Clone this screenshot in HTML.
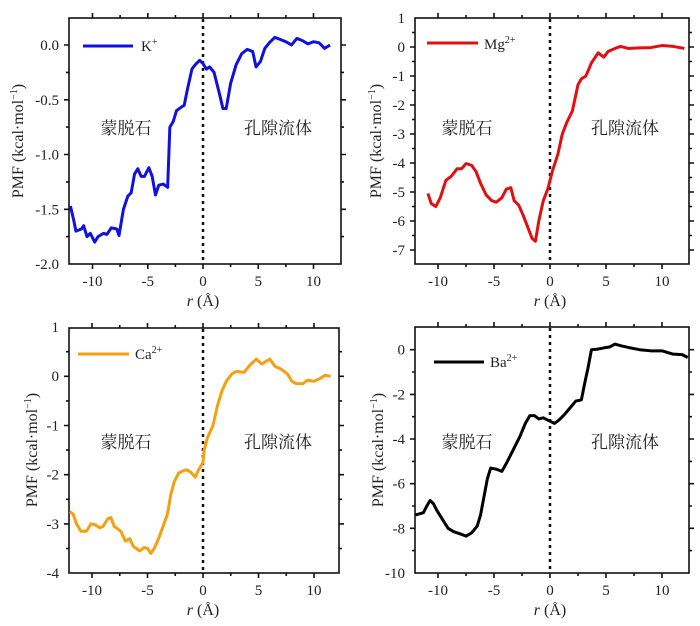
<!DOCTYPE html>
<html><head><meta charset="utf-8"><style>
body{margin:0;background:#fff}
svg{display:block}
text{font-family:"Liberation Serif","Noto Serif CJK SC",serif;fill:#222}
.cn{font-family:"Liberation Serif","Noto Serif CJK SC","Noto Sans CJK SC",serif;font-size:17px}
</style></head><body>
<svg width="700" height="626" viewBox="0 0 700 626" xmlns="http://www.w3.org/2000/svg">
<defs>
<clipPath id="c1"><rect x="69" y="18" width="272" height="246"/></clipPath>
<clipPath id="c2"><rect x="415" y="18" width="274" height="246"/></clipPath>
<clipPath id="c3"><rect x="69" y="328" width="270" height="245"/></clipPath>
<clipPath id="c4"><rect x="415" y="327" width="274" height="246"/></clipPath>
</defs>
<g fill="none" stroke="#111" stroke-width="1.6">
<rect x="69" y="18" width="272" height="246"/>
<rect x="415" y="18" width="274" height="246"/>
<rect x="69" y="328" width="270" height="245"/>
<rect x="415" y="327" width="274" height="246"/>
<path d="M92.5,18v-5M147.8,18v-5M203,18v-5M258.3,18v-5M313.5,18v-5M120.1,18v-3M175.4,18v-3M230.6,18v-3M285.9,18v-3
M92.5,264v5M147.8,264v5M203,264v5M258.3,264v5M313.5,264v5M120.1,264v3M175.4,264v3M230.6,264v3M285.9,264v3
M69,45h-5M69,99.8h-5M69,154.5h-5M69,209.3h-5M69,72.4h-3M69,127.1h-3M69,181.9h-3M69,236.6h-3
M341,45h5M341,99.8h5M341,154.5h5M341,209.3h5M341,72.4h3M341,127.1h3M341,181.9h3M341,236.6h3"/>
<path d="M438,18v-5M494,18v-5M550,18v-5M606,18v-5M662,18v-5M466,18v-3M522,18v-3M578,18v-3M634,18v-3
M438,264v5M494,264v5M550,264v5M606,264v5M662,264v5M466,264v3M522,264v3M578,264v3M634,264v3
M415,47h-5M415,76h-5M415,105h-5M415,134h-5M415,163h-5M415,192h-5M415,221h-5M415,250h-5M415,32.5h-3M415,61.5h-3M415,90.5h-3M415,119.5h-3M415,148.5h-3M415,177.5h-3M415,206.5h-3M415,235.5h-3
M689,47h5M689,76h5M689,105h5M689,134h5M689,163h5M689,192h5M689,221h5M689,250h5M689,32.5h3M689,61.5h3M689,90.5h3M689,119.5h3M689,148.5h3M689,177.5h3M689,206.5h3M689,235.5h3"/>
<path d="M92,328v-5M147.5,328v-5M203,328v-5M258.5,328v-5M314,328v-5M119.75,328v-3M175.25,328v-3M230.75,328v-3M286.25,328v-3
M92,573v5M147.5,573v5M203,573v5M258.5,573v5M314,573v5M119.75,573v3M175.25,573v3M230.75,573v3M286.25,573v3
M69,376.3h-5M69,425.5h-5M69,474.7h-5M69,523.9h-5M69,351.7h-3M69,400.9h-3M69,450.1h-3M69,499.3h-3M69,548.5h-3
M339,376.3h5M339,425.5h5M339,474.7h5M339,523.9h5M339,351.7h3M339,400.9h3M339,450.1h3M339,499.3h3M339,548.5h3"/>
<path d="M438,327v-5M494,327v-5M550,327v-5M606,327v-5M662,327v-5M466,327v-3M522,327v-3M578,327v-3M634,327v-3
M438,573v5M494,573v5M550,573v5M606,573v5M662,573v5M466,573v3M522,573v3M578,573v3M634,573v3
M415,349.7h-5M415,394.4h-5M415,439h-5M415,483.7h-5M415,528.3h-5M415,372h-3M415,416.7h-3M415,461.4h-3M415,506h-3M415,550.6h-3
M689,349.7h5M689,394.4h5M689,439h5M689,483.7h5M689,528.3h5M689,372h3M689,416.7h3M689,461.4h3M689,506h3M689,550.6h3"/>
</g>
<g stroke="#111" stroke-width="2.5" stroke-dasharray="3,4">
<line x1="203" y1="19" x2="203" y2="263"/>
<line x1="550" y1="19" x2="550" y2="263"/>
<line x1="203" y1="329" x2="203" y2="572"/>
<line x1="550" y1="328" x2="550" y2="572"/>
</g>
<g fill="none" stroke-width="3" stroke-linejoin="round">
<g clip-path="url(#c1)"><g transform="translate(203,45) scale(11.05,-109.5)">
<polyline vector-effect="non-scaling-stroke" stroke="#1010e0" points="-12,-1.47 -11.7,-1.6 -11.5,-1.7 -11,-1.68 -10.8,-1.65 -10.5,-1.75 -10.2,-1.72 -9.8,-1.8 -9.5,-1.75 -9,-1.72 -8.7,-1.73 -8.3,-1.67 -7.8,-1.68 -7.6,-1.74 -7.2,-1.5 -6.8,-1.38 -6.5,-1.35 -6.2,-1.18 -5.9,-1.13 -5.6,-1.2 -5.3,-1.2 -4.9,-1.12 -4.6,-1.2 -4.3,-1.37 -4,-1.28 -3.6,-1.27 -3.2,-1.3 -3,-0.75 -2.7,-0.7 -2.4,-0.6 -2,-0.57 -1.7,-0.55 -1.4,-0.4 -1,-0.22 -0.7,-0.18 -0.3,-0.14 0,-0.17 0.3,-0.22 0.6,-0.2 1,-0.25 1.5,-0.45 1.8,-0.58 2.1,-0.58 2.5,-0.35 3,-0.18 3.5,-0.08 4,-0.04 4.5,-0.06 4.8,-0.2 5.2,-0.15 5.6,-0.03 6,0.02 6.5,0.07 7,0.05 7.5,0.03 8,0 8.5,0.06 9,0.04 9.5,0.01 10,0.03 10.5,0.02 11,-0.03 11.5,0"/>
</g></g>
<g clip-path="url(#c2)"><g transform="translate(550,47) scale(11.2,-29)">
<polyline vector-effect="non-scaling-stroke" stroke="#e01010" points="-10.9,-5.05 -10.6,-5.4 -10.2,-5.5 -9.8,-5.2 -9.3,-4.6 -8.8,-4.45 -8.3,-4.2 -7.9,-4.2 -7.5,-4.02 -7,-4.08 -6.6,-4.3 -6.2,-4.7 -5.7,-5.1 -5.2,-5.3 -4.8,-5.35 -4.3,-5.2 -3.9,-4.9 -3.5,-4.85 -3.2,-5.3 -2.8,-5.45 -2.4,-5.8 -2,-6.2 -1.6,-6.6 -1.3,-6.7 -1,-6.0 -0.6,-5.3 -0.2,-4.9 0.2,-4.3 0.7,-3.7 1.1,-3.0 1.5,-2.6 2,-2.2 2.5,-1.3 2.8,-1.1 3.2,-1.0 3.7,-0.55 4.3,-0.2 4.8,-0.35 5.2,-0.15 5.8,-0.05 6.3,0.02 7,-0.05 8,-0.03 9,-0.02 10,0.05 11,0.02 12,-0.05"/>
</g></g>
<g clip-path="url(#c3)"><g transform="translate(203,376.3) scale(11.1,-49.2)">
<polyline vector-effect="non-scaling-stroke" stroke="#f4a010" points="-12,-2.75 -11.7,-2.8 -11.4,-3.0 -11,-3.15 -10.5,-3.15 -10.1,-3.0 -9.7,-3.02 -9.3,-3.08 -9,-3.05 -8.6,-2.9 -8.3,-2.87 -8,-3.05 -7.7,-3.1 -7.4,-3.15 -7,-3.35 -6.6,-3.3 -6.3,-3.45 -6,-3.5 -5.7,-3.55 -5.3,-3.48 -5,-3.5 -4.7,-3.6 -4.4,-3.5 -4,-3.3 -3.6,-3.05 -3.2,-2.8 -2.9,-2.4 -2.6,-2.15 -2.2,-1.97 -1.8,-1.92 -1.5,-1.9 -1.1,-1.95 -0.7,-2.05 -0.4,-1.9 0,-1.75 0.1,-1.5 0.4,-1.25 0.9,-1.0 1.3,-0.6 1.7,-0.3 2.1,-0.1 2.6,0.05 3,0.1 3.7,0.08 4.2,0.22 4.8,0.35 5.3,0.25 6,0.35 6.5,0.2 7,0.15 7.6,0.05 8,-0.1 8.4,-0.15 9,-0.15 9.4,-0.08 10,-0.1 10.5,-0.05 11,0.02 11.5,0.0"/>
</g></g>
<g clip-path="url(#c4)"><g transform="translate(550,349.7) scale(11.2,-22.33)">
<polyline vector-effect="non-scaling-stroke" stroke="#000" points="-12,-7.4 -11.3,-7.3 -11,-7.0 -10.7,-6.75 -10.4,-6.9 -10.1,-7.2 -9.6,-7.6 -9.1,-8.0 -8.6,-8.15 -8,-8.25 -7.5,-8.35 -7,-8.2 -6.5,-7.9 -6.2,-7.4 -5.9,-6.6 -5.6,-5.8 -5.3,-5.3 -4.8,-5.35 -4.3,-5.45 -3.8,-5.0 -3.2,-4.4 -2.7,-3.9 -2.2,-3.3 -1.8,-2.95 -1.4,-2.95 -1.0,-3.1 -0.6,-3.05 0,-3.2 0.4,-3.3 0.8,-3.15 1.3,-2.9 1.8,-2.6 2.3,-2.3 2.8,-2.25 3.1,-1.5 3.4,-0.8 3.7,0 4.2,0.02 4.8,0.08 5.3,0.12 5.8,0.25 6.3,0.18 7,0.1 8,0 9,-0.05 10,-0.05 11,-0.2 11.8,-0.22 12.3,-0.35"/>
</g></g>
<line x1="83" y1="46" x2="133" y2="46" stroke="#1010e0"/>
<line x1="427" y1="43" x2="478" y2="43" stroke="#e01010"/>
<line x1="78" y1="354" x2="129" y2="354" stroke="#f4a010"/>
<line x1="434" y1="362" x2="484" y2="362" stroke="#000"/>
</g>
<g font-size="15">
<text x="141" y="51">K<tspan font-size="10" dy="-6">+</tspan></text>
<text x="484" y="49">Mg<tspan font-size="10" dy="-6">2+</tspan></text>
<text x="135" y="359">Ca<tspan font-size="10" dy="-6">2+</tspan></text>
<text x="490" y="367">Ba<tspan font-size="10" dy="-6">2+</tspan></text>
</g>
<g font-size="15" text-anchor="end">
<text x="59" y="50">0.0</text><text x="59" y="104.8">-0.5</text><text x="59" y="159.5">-1.0</text><text x="59" y="214.3">-1.5</text><text x="59" y="269">-2.0</text>
<text x="405" y="23">1</text><text x="405" y="52">0</text><text x="405" y="81">-1</text><text x="405" y="110">-2</text><text x="405" y="139">-3</text><text x="405" y="168">-4</text><text x="405" y="197">-5</text><text x="405" y="226">-6</text><text x="405" y="255">-7</text>
<text x="59" y="332">1</text><text x="59" y="381">0</text><text x="59" y="430.5">-1</text><text x="59" y="479.7">-2</text><text x="59" y="529">-3</text><text x="59" y="578">-4</text>
<text x="405" y="354.7">0</text><text x="405" y="399.4">-2</text><text x="405" y="444">-4</text><text x="405" y="488.7">-6</text><text x="405" y="533.3">-8</text><text x="405" y="578">-10</text>
</g>
<g font-size="15" text-anchor="middle">
<text x="92.5" y="286">-10</text><text x="147.8" y="286">-5</text><text x="203" y="286">0</text><text x="258.3" y="286">5</text><text x="313.5" y="286">10</text>
<text x="438" y="286">-10</text><text x="494" y="286">-5</text><text x="550" y="286">0</text><text x="606" y="286">5</text><text x="662" y="286">10</text>
<text x="92" y="595">-10</text><text x="147.5" y="595">-5</text><text x="203" y="595">0</text><text x="258.5" y="595">5</text><text x="314" y="595">10</text>
<text x="438" y="595">-10</text><text x="494" y="595">-5</text><text x="550" y="595">0</text><text x="606" y="595">5</text><text x="662" y="595">10</text>
</g>
<g font-size="16" text-anchor="middle">
<text x="203" y="306"><tspan font-style="italic">r</tspan> (Å)</text>
<text x="550" y="306"><tspan font-style="italic">r</tspan> (Å)</text>
<text x="203" y="615"><tspan font-style="italic">r</tspan> (Å)</text>
<text x="550" y="615"><tspan font-style="italic">r</tspan> (Å)</text>
<text transform="translate(23,141) rotate(-90)">PMF (kcal·mol<tspan font-size="10" dy="-6">−1</tspan><tspan dy="6">)</tspan></text>
<text transform="translate(381,141) rotate(-90)">PMF (kcal·mol<tspan font-size="10" dy="-6">−1</tspan><tspan dy="6">)</tspan></text>
<text transform="translate(37,450) rotate(-90)">PMF (kcal·mol<tspan font-size="10" dy="-6">−1</tspan><tspan dy="6">)</tspan></text>
<text transform="translate(383,450) rotate(-90)">PMF (kcal·mol<tspan font-size="10" dy="-6">−1</tspan><tspan dy="6">)</tspan></text>
</g>
<g class="cn" text-anchor="middle">
<text x="126" y="134">蒙脱石</text><text x="278" y="134">孔隙流体</text>
<text x="467" y="134">蒙脱石</text><text x="625" y="134">孔隙流体</text>
<text x="126" y="448">蒙脱石</text><text x="278" y="448">孔隙流体</text>
<text x="467" y="448">蒙脱石</text><text x="625" y="448">孔隙流体</text>
</g>
</svg>
</body></html>
